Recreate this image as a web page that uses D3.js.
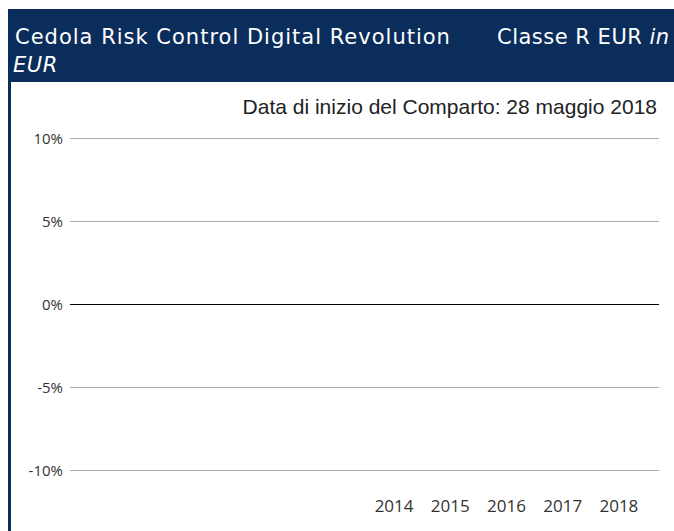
<!DOCTYPE html>
<html>
<head>
<meta charset="utf-8">
<title>Cedola Risk Control Digital Revolution</title>
<script src="https://cdn.jsdelivr.net/npm/d3@7"></script>
<style>
	body { margin: 0; background: #fff; }
	svg { display: block; }
</style>
</head>
<body>
<svg id="chart" width="674" height="531"></svg>
<script>
// chart data (no returns shown for this share class yet)
var titleMain = "Cedola Risk Control Digital Revolution";
var titleClass = "Classe R EUR";
var titleCurrency = "EUR";
var startNote = "Data di inizio del Comparto: 28 maggio 2018";
var years = ["2014", "2015", "2016", "2017", "2018"];
var returns = [null, null, null, null, null];
var yTicks = [-10, -5, 0, 5, 10];

var svg = d3.select("#chart");
var navy = "#0b2d5b";

// header band + left rule
svg.append("rect").attr("x", 8).attr("y", 9).attr("width", 666).attr("height", 73).attr("fill", navy);
svg.append("rect").attr("x", 8).attr("y", 82).attr("width", 3).attr("height", 449).attr("fill", navy);

var head = svg.append("g")
	.attr("font-family", "'DejaVu Sans', sans-serif")
	.attr("font-size", 21)
	.attr("fill", "#fff");
head.append("text").attr("x", 15).attr("y", 44)
	.attr("letter-spacing", 1)
	.text(titleMain);
var cls = head.append("text").attr("x", 497).attr("y", 44).attr("letter-spacing", 0.5);
cls.append("tspan").text(titleClass + " ");
cls.append("tspan").attr("font-style", "italic").text("in");
head.append("text").attr("x", 13).attr("y", 72).attr("font-style", "italic").attr("letter-spacing", 0.5).text(titleCurrency);

svg.append("text")
	.attr("x", 657).attr("y", 114)
	.attr("text-anchor", "end")
	.attr("font-family", "'Liberation Sans', Arial, sans-serif")
	.attr("font-size", 21)
	.attr("fill", "#222")
	.text(startNote);

// scales
var y = d3.scaleLinear().domain([-10, 10]).range([471, 139]);
var x = d3.scaleBand().domain(years).range([366, 647]);
var left = 70, right = 659;

var axisFont = "'Open Sans', 'DejaVu Sans Condensed', sans-serif";

var grid = svg.append("g");
grid.selectAll("line")
	.data(yTicks)
	.join("line")
	.attr("x1", left).attr("x2", right)
	.attr("y1", d => Math.round(y(d)) - 0.5).attr("y2", d => Math.round(y(d)) - 0.5)
	.attr("stroke", d => d === 0 ? "#000" : "#aaa")
	.attr("stroke-width", 1);

svg.append("g")
	.selectAll("text")
	.data(yTicks)
	.join("text")
	.attr("x", 63)
	.attr("y", d => y(d))
	.attr("dy", "0.35em")
	.attr("text-anchor", "end")
	.attr("font-family", axisFont)
	.attr("font-size", 15)
	.attr("fill", "#333")
	.text(d => d + "%");

// bars (empty: no data)
svg.append("g")
	.selectAll("rect")
	.data(years.map((d, i) => ({ year: d, v: returns[i] })).filter(d => d.v != null))
	.join("rect")
	.attr("x", d => x(d.year) + 10)
	.attr("width", x.bandwidth() - 20)
	.attr("y", d => y(Math.max(0, d.v)))
	.attr("height", d => Math.abs(y(d.v) - y(0)))
	.attr("fill", navy);

svg.append("g")
	.selectAll("text")
	.data(years)
	.join("text")
	.attr("x", d => x(d) + x.bandwidth() / 2)
	.attr("y", 512)
	.attr("text-anchor", "middle")
	.attr("font-family", axisFont)
	.attr("font-size", 17)
	.attr("fill", "#333")
	.text(d => d);
</script>
</body>
</html>
